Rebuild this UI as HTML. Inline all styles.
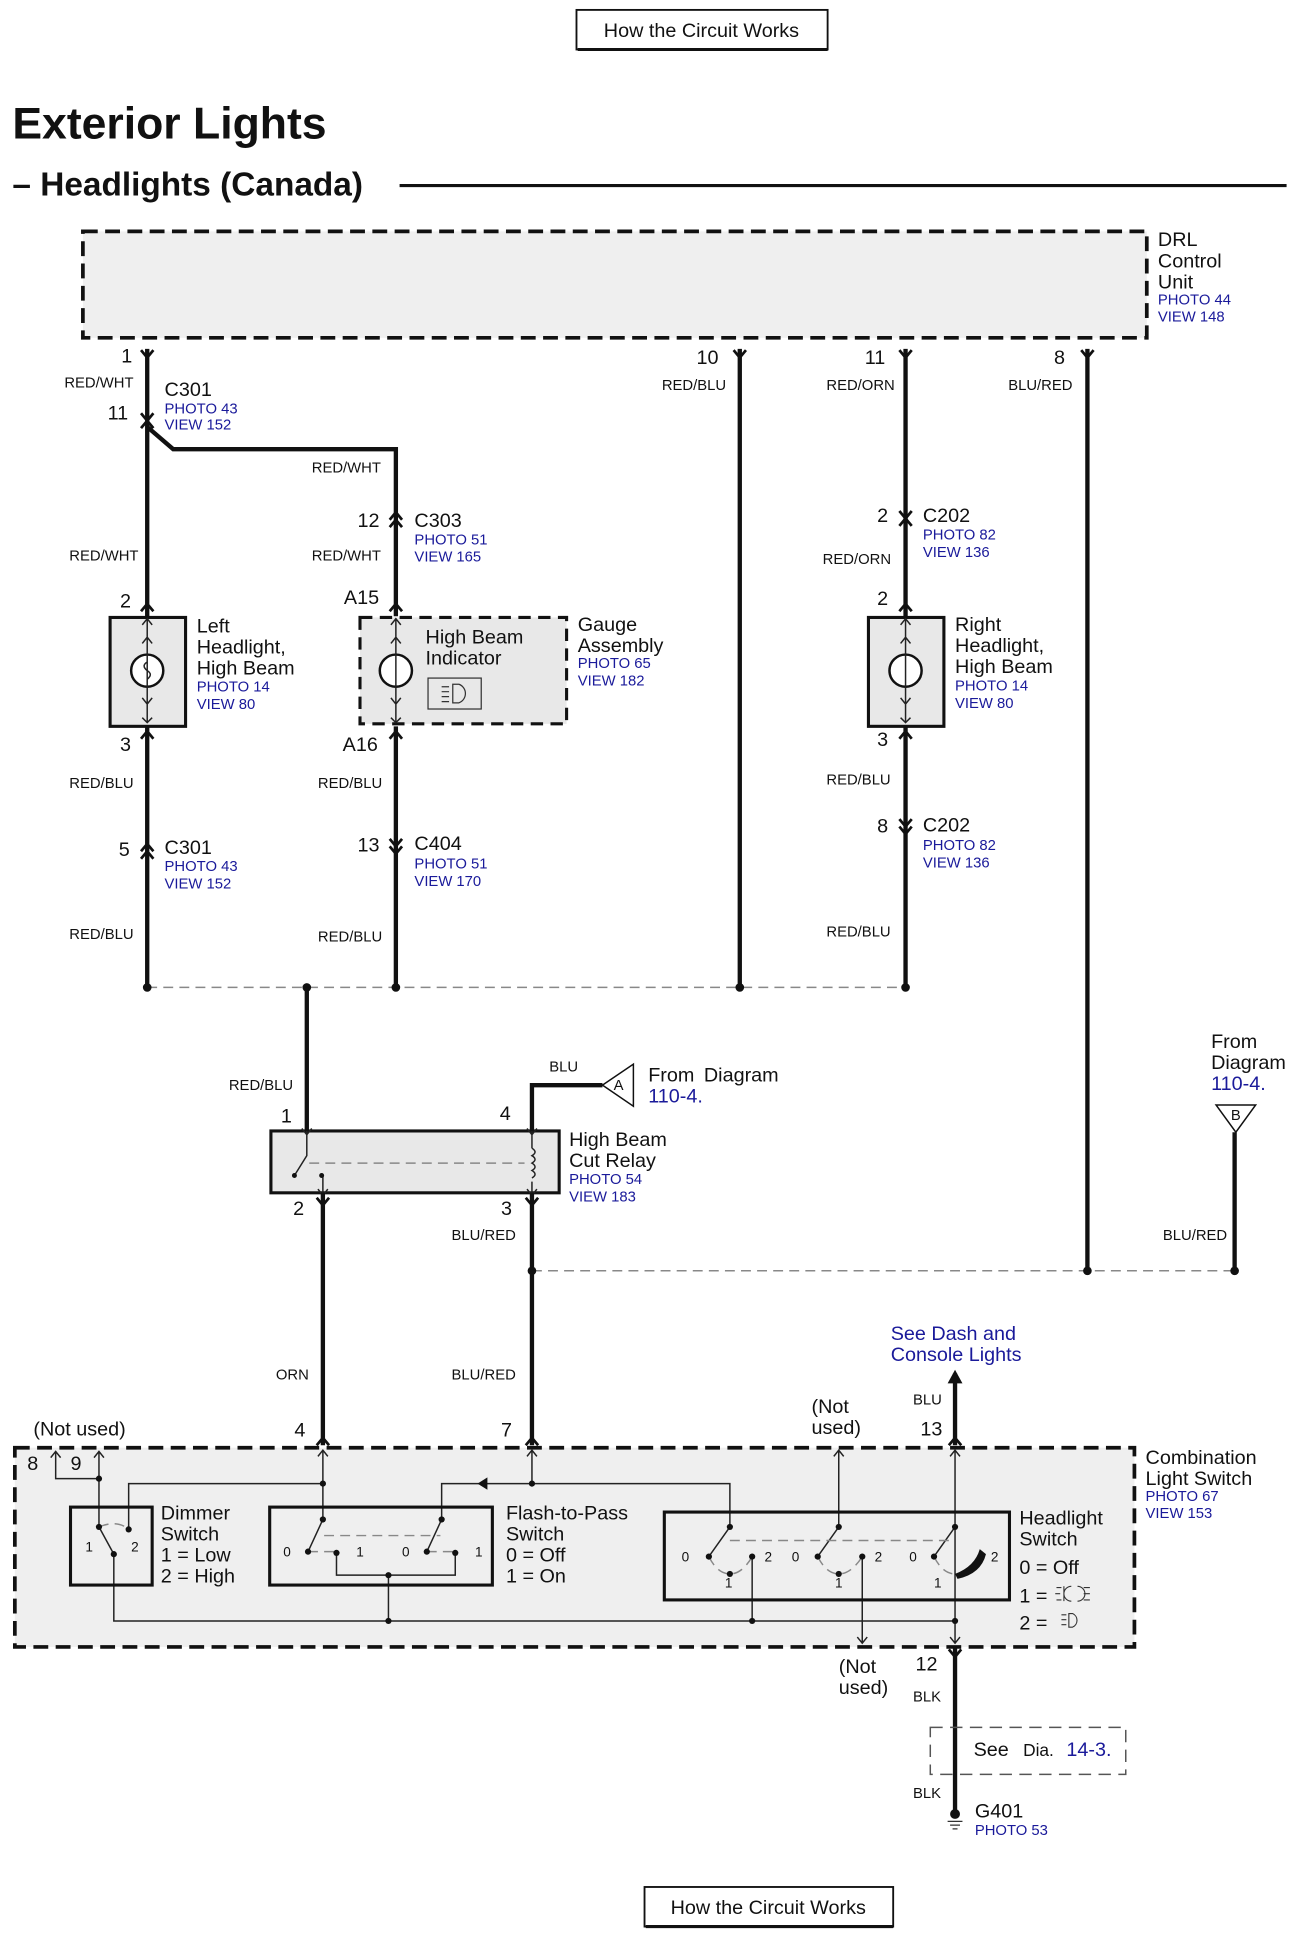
<!DOCTYPE html>
<html><head><meta charset="utf-8"><style>
html,body{margin:0;padding:0;background:#fff}
svg{display:block}
text{font-family:"Liberation Sans",sans-serif;fill:#111}
.s{font-size:12px}
.m{font-size:16px}
.b{fill:#1a1a9a;font-size:12px}
.bm{fill:#1a1a9a;font-size:16px}
.w{stroke:#111;stroke-width:3.5;fill:none}
.t{stroke:#222;stroke-width:1.2;fill:none}
.d{stroke:#111;stroke-width:3;stroke-dasharray:12 6}
.g{stroke:#888;stroke-width:1.2;fill:none;stroke-dasharray:8 5}
.c{stroke:#111;stroke-width:2.2;fill:none}
</style></head><body>
<svg width="1294" height="1934" viewBox="0 0 1046 1563" preserveAspectRatio="none" xmlns="http://www.w3.org/2000/svg">
<!-- top button -->
<rect x="466" y="8" width="203" height="32" fill="#fff" stroke="#111" stroke-width="1.5"/>
<line x1="467" y1="40" x2="669" y2="40" stroke="#111" stroke-width="2.5"/>
<text x="567" y="30" class="m" text-anchor="middle">How the Circuit Works</text>
<text x="10" y="112" style="font-size:36px;font-weight:bold">Exterior Lights</text>
<text x="10" y="158" style="font-size:27px;font-weight:bold">– Headlights (Canada)</text>
<line x1="323" y1="150" x2="1040" y2="150" stroke="#111" stroke-width="2.5"/>

<!-- DRL box -->
<rect x="67" y="187" width="860" height="86" style="fill:#efefef" class="d"/>
<text x="936" y="199" class="m">DRL</text><text x="936" y="216" class="m">Control</text><text x="936" y="233" class="m">Unit</text>
<text x="936" y="246" class="b">PHOTO 44</text><text x="936" y="260" class="b">VIEW 148</text>

<!-- wires -->
<path class="w" d="M119 282 V798"/>
<path class="w" d="M119 345 L140 363 H320 V498"/>
<path class="w" d="M320 587 V798"/>
<path class="w" d="M598 282 V798"/>
<path class="w" d="M732 282 V498"/>
<path class="w" d="M732 587 V798"/>
<path class="w" d="M879 282 V1027"/>
<g class="c">
<path d="M114 283 L119 289 L124 283"/><path d="M593 283 L598 289 L603 283"/><path d="M727 283 L732 289 L737 283"/><path d="M874 283 L879 289 L884 283"/>
<path d="M114 334 L119 340 L124 334"/><path d="M114 346 L119 340 L124 346"/>
<path d="M315 420 L320 414 L325 420"/><path d="M315 426 L320 420 L325 426"/>
<path d="M727 413 L732 419 L737 413"/><path d="M727 425 L732 419 L737 425"/>
<path d="M114 494 L119 488 L124 494"/><path d="M315 494 L320 488 L325 494"/><path d="M727 494 L732 488 L737 494"/>
<path d="M114 597 L119 591 L124 597"/><path d="M315 597 L320 591 L325 597"/><path d="M727 597 L732 591 L737 597"/>
<path d="M114 688 L119 682 L124 688"/><path d="M114 694 L119 688 L124 694"/>
<path d="M315 678 L320 684 L325 678"/><path d="M315 684 L320 690 L325 684"/>
<path d="M727 662 L732 668 L737 662"/><path d="M727 668 L732 674 L737 668"/>
</g>
<text x="98" y="293" class="m">1</text><text x="52" y="313" class="s">RED/WHT</text>
<text x="133" y="320" class="m">C301</text><text x="133" y="334" class="b">PHOTO 43</text><text x="133" y="347" class="b">VIEW 152</text>
<text x="87" y="339" class="m">11</text>
<text x="252" y="382" class="s">RED/WHT</text>
<text x="289" y="426" class="m">12</text><text x="335" y="426" class="m">C303</text><text x="335" y="440" class="b">PHOTO 51</text><text x="335" y="454" class="b">VIEW 165</text>
<text x="252" y="453" class="s">RED/WHT</text><text x="56" y="453" class="s">RED/WHT</text>
<text x="563" y="294" class="m">10</text><text x="535" y="315" class="s">RED/BLU</text>
<text x="699" y="294" class="m">11</text><text x="668" y="315" class="s">RED/ORN</text>
<text x="852" y="294" class="m">8</text><text x="815" y="315" class="s">BLU/RED</text>
<text x="709" y="422" class="m">2</text><text x="746" y="422" class="m">C202</text><text x="746" y="436" class="b">PHOTO 82</text><text x="746" y="450" class="b">VIEW 136</text>
<text x="665" y="456" class="s">RED/ORN</text>

<!-- left headlight -->
<rect x="89" y="499" width="61" height="88" fill="#e8e8e8" stroke="#111" stroke-width="2.5"/>
<circle cx="119" cy="542" r="13" fill="#fff" stroke="#111" stroke-width="2"/>
<path class="t" d="M119 500 V584 M115 505 L119 500 L123 505 M115 580 L119 584 L123 580 M115 520 L119 515 L123 520 M115 564 L119 569 L123 564"/>
<path class="t" d="M119 535 q-5 3 0 7 q5 3 0 7" stroke-width="1"/>
<text x="97" y="491" class="m">2</text><text x="97" y="607" class="m">3</text>
<text x="159" y="511" class="m">Left</text><text x="159" y="528" class="m">Headlight,</text><text x="159" y="545" class="m">High Beam</text>
<text x="159" y="559" class="b">PHOTO 14</text><text x="159" y="573" class="b">VIEW 80</text>
<!-- gauge -->
<rect x="291" y="499" width="167" height="86" fill="#e8e8e8" stroke="#111" stroke-width="2.5" stroke-dasharray="10 6"/>
<circle cx="320" cy="542" r="13" fill="#fff" stroke="#111" stroke-width="2"/>
<path class="t" d="M320 500 V584 M316 505 L320 500 L324 505 M316 580 L320 584 L324 580 M316 520 L320 515 L324 520 M316 564 L320 569 L324 564"/>
<rect x="346" y="548" width="43" height="25" fill="none" stroke="#333" stroke-width="1"/>
<path d="M366 553 h5 a8 8 0 0 1 0 15 h-5 z M357 555 h6 M357 559 h6 M357 563 h6 M357 567 h6" fill="none" stroke="#333" stroke-width="1"/>
<text x="278" y="488" class="m">A15</text><text x="277" y="607" class="m">A16</text>
<text x="344" y="520" class="m">High Beam</text><text x="344" y="537" class="m">Indicator</text>
<text x="467" y="510" class="m">Gauge</text><text x="467" y="527" class="m">Assembly</text><text x="467" y="540" class="b">PHOTO 65</text><text x="467" y="554" class="b">VIEW 182</text>
<!-- right headlight -->
<rect x="702" y="499" width="61" height="88" fill="#e8e8e8" stroke="#111" stroke-width="2.5"/>
<circle cx="732" cy="542" r="13" fill="#fff" stroke="#111" stroke-width="2"/>
<path class="t" d="M732 500 V584 M728 505 L732 500 L736 505 M728 580 L732 584 L736 580 M728 520 L732 515 L736 520 M728 564 L732 569 L736 564"/>
<text x="709" y="489" class="m">2</text><text x="709" y="603" class="m">3</text>
<text x="772" y="510" class="m">Right</text><text x="772" y="527" class="m">Headlight,</text><text x="772" y="544" class="m">High Beam</text>
<text x="772" y="558" class="b">PHOTO 14</text><text x="772" y="572" class="b">VIEW 80</text>

<text x="56" y="637" class="s">RED/BLU</text><text x="257" y="637" class="s">RED/BLU</text><text x="668" y="634" class="s">RED/BLU</text>
<text x="96" y="692" class="m">5</text><text x="133" y="690" class="m">C301</text><text x="133" y="704" class="b">PHOTO 43</text><text x="133" y="718" class="b">VIEW 152</text>
<text x="289" y="688" class="m">13</text><text x="335" y="687" class="m">C404</text><text x="335" y="702" class="b">PHOTO 51</text><text x="335" y="716" class="b">VIEW 170</text>
<text x="709" y="673" class="m">8</text><text x="746" y="672" class="m">C202</text><text x="746" y="687" class="b">PHOTO 82</text><text x="746" y="701" class="b">VIEW 136</text>
<text x="56" y="759" class="s">RED/BLU</text><text x="257" y="761" class="s">RED/BLU</text><text x="668" y="757" class="s">RED/BLU</text>

<line x1="119" y1="798" x2="732" y2="798" class="g"/>
<g fill="#111"><circle cx="119" cy="798" r="3.5"/><circle cx="248" cy="798" r="3.5"/><circle cx="320" cy="798" r="3.5"/><circle cx="598" cy="798" r="3.5"/><circle cx="732" cy="798" r="3.5"/></g>
<path class="w" d="M248 798 V914"/>
<text x="185" y="881" class="s">RED/BLU</text>
<text x="227" y="907" class="m">1</text><text x="404" y="905" class="m">4</text>
<path class="w" d="M430 914 V877 H487"/>
<text x="444" y="866" class="s">BLU</text>
<polygon points="487,877 512,860 512,894" fill="#fff" stroke="#111" stroke-width="1.2"/>
<text x="500" y="881" class="s" text-anchor="middle">A</text>
<text x="524" y="874" class="m">From</text><text x="569" y="874" class="m">Diagram</text><text x="524" y="891" class="bm">110-4.</text>
<rect x="219" y="914" width="233" height="50" fill="#e8e8e8" stroke="#111" stroke-width="2.5"/>
<path class="t" d="M248 914 V934 L238 950 M261 964 V950 M244 912 L248 917 L252 912 M257 961 L261 966 L265 961"/>
<circle cx="238" cy="950" r="2" fill="#111"/><circle cx="260" cy="950" r="2" fill="#111"/>
<path class="t" d="M430 914 V928 M430 955 V964 M426 912 L430 917 L434 912 M426 961 L430 966 L434 961"/>
<path d="M430 928 q5 3 0 6 q5 3 0 6 q5 3 0 6 q5 3 0 6" fill="none" stroke="#222" stroke-width="1.2"/>
<line x1="250" y1="940" x2="424" y2="940" class="g"/>
<text x="460" y="926" class="m">High Beam</text><text x="460" y="943" class="m">Cut Relay</text><text x="460" y="957" class="b">PHOTO 54</text><text x="460" y="971" class="b">VIEW 183</text>
<text x="237" y="982" class="m">2</text><text x="405" y="982" class="m">3</text>
<path class="c" d="M256 968 L261 974 L266 968 M425 968 L430 974 L435 968"/>
<path class="w" d="M261 964 V1168 M430 964 V1168"/>
<text x="365" y="1002" class="s">BLU/RED</text><text x="223" y="1115" class="s">ORN</text><text x="365" y="1115" class="s">BLU/RED</text>
<line x1="430" y1="1027" x2="998" y2="1027" class="g"/>
<g fill="#111"><circle cx="430" cy="1027" r="3.5"/><circle cx="879" cy="1027" r="3.5"/><circle cx="998" cy="1027" r="3.5"/></g>
<text x="979" y="847" class="m">From</text><text x="979" y="864" class="m">Diagram</text><text x="979" y="881" class="bm">110-4.</text>
<polygon points="983,893 1015,893 999,915" fill="#fff" stroke="#111" stroke-width="1.2"/>
<text x="999" y="905" class="s" text-anchor="middle">B</text>
<path class="w" d="M998 915 V1027"/>
<text x="940" y="1002" class="s">BLU/RED</text>
<text x="720" y="1083" class="bm">See Dash and</text><text x="720" y="1100" class="bm">Console Lights</text>
<polygon points="766,1118 778,1118 772,1107" fill="#111"/>
<path class="w" d="M772 1110 V1168"/>
<text x="738" y="1135" class="s">BLU</text><text x="744" y="1160" class="m">13</text>
<text x="27" y="1160" class="m">(Not used)</text><text x="238" y="1161" class="m">4</text><text x="405" y="1161" class="m">7</text>
<text x="656" y="1142" class="m">(Not</text><text x="656" y="1159" class="m">used)</text>
<path class="c" d="M256 1168 L261 1162 L266 1168 M425 1168 L430 1162 L435 1168 M767 1168 L772 1162 L777 1168"/>

<!-- combination switch -->
<rect x="12" y="1170" width="905" height="161" style="fill:#efefef" class="d"/>
<text x="926" y="1183" class="m">Combination</text><text x="926" y="1200" class="m">Light Switch</text><text x="926" y="1213" class="b">PHOTO 67</text><text x="926" y="1227" class="b">VIEW 153</text>
<text x="22" y="1188" class="m">8</text><text x="57" y="1188" class="m">9</text>
<g class="t">
<path d="M45 1173 V1195 H80 M41 1178 L45 1173 L49 1178"/>
<path d="M80 1173 V1234 M76 1178 L80 1173 L84 1178"/>
<path d="M104 1236 V1199 H261"/>
<path d="M261 1172 V1228 M257 1177 L261 1172 L265 1177"/>
<path d="M430 1172 V1199 M426 1177 L430 1172 L434 1177"/>
<path d="M357 1228 V1199 H590 V1234"/>
<path d="M678 1172 V1234 M674 1177 L678 1172 L682 1177"/>
<path d="M772 1172 V1328 M768 1177 L772 1172 L776 1177 M768 1323 L772 1328 L776 1323"/>
<path d="M92 1256 V1310 H772"/>
<path d="M80 1234 L92 1256"/>
<path d="M272 1255 V1273 H368 V1255 M314 1273 V1310"/>
<path d="M261 1228 L249 1254 M357 1228 L345 1254"/>
<path d="M590 1234 L573 1258 M678 1234 L661 1258 M772 1234 L755 1258"/>
<path d="M608 1258 V1310 M697 1258 V1328 M693 1323 L697 1328 L701 1323"/>
</g>
<g class="g" stroke-dasharray="3 3" stroke="#333"><path d="M80 1234 Q95 1228 104 1236"/><path d="M249 1254 H272 M345 1254 H368"/>
<path d="M573 1258 Q580 1272 590 1272 Q600 1272 608 1258 M661 1258 Q668 1272 678 1272 Q688 1272 697 1258 M755 1258 Q762 1272 772 1272"/></g>
<line x1="262" y1="1241" x2="356" y2="1241" class="g" stroke-dasharray="6 4"/>
<line x1="590" y1="1245" x2="772" y2="1245" class="g" stroke-dasharray="6 4"/>
<polygon points="386,1199 394,1194 394,1204" fill="#111"/>
<path d="M772 1272 Q788 1266 792 1252 L797 1256 Q793 1272 774 1276 z" fill="#111"/>
<g fill="#111">
<circle cx="80" cy="1195" r="2.5"/><circle cx="261" cy="1199" r="2.5"/><circle cx="430" cy="1199" r="2.5"/>
<circle cx="80" cy="1234" r="2.5"/><circle cx="92" cy="1256" r="2.5"/><circle cx="104" cy="1236" r="2.5"/>
<circle cx="261" cy="1228" r="2.5"/><circle cx="357" cy="1228" r="2.5"/><circle cx="249" cy="1254" r="2.5"/><circle cx="272" cy="1255" r="2.5"/><circle cx="345" cy="1254" r="2.5"/><circle cx="368" cy="1255" r="2.5"/><circle cx="314" cy="1273" r="2.5"/>
<circle cx="590" cy="1234" r="2.5"/><circle cx="678" cy="1234" r="2.5"/><circle cx="772" cy="1234" r="2.5"/>
<circle cx="573" cy="1258" r="2.5"/><circle cx="608" cy="1258" r="2.5"/><circle cx="590" cy="1272" r="2.5"/>
<circle cx="661" cy="1258" r="2.5"/><circle cx="697" cy="1258" r="2.5"/><circle cx="678" cy="1272" r="2.5"/><circle cx="755" cy="1258" r="2.5"/>
<circle cx="314" cy="1310" r="2.5"/><circle cx="608" cy="1310" r="2.5"/><circle cx="772" cy="1310" r="2.5"/>
</g>
<rect x="57" y="1218" width="66" height="63" fill="none" stroke="#111" stroke-width="2.5"/>
<rect x="218" y="1218" width="180" height="63" fill="none" stroke="#111" stroke-width="2.5"/>
<rect x="537" y="1222" width="279" height="71" fill="none" stroke="#111" stroke-width="2.5"/>
<g style="font-size:11px">
<text x="69" y="1254" style="font-size:11px">1</text><text x="106" y="1254" style="font-size:11px">2</text>
<text x="229" y="1258" style="font-size:11px">0</text><text x="288" y="1258" style="font-size:11px">1</text><text x="325" y="1258" style="font-size:11px">0</text><text x="384" y="1258" style="font-size:11px">1</text>
<text x="551" y="1262" style="font-size:11px">0</text><text x="618" y="1262" style="font-size:11px">2</text><text x="586" y="1283" style="font-size:11px">1</text>
<text x="640" y="1262" style="font-size:11px">0</text><text x="707" y="1262" style="font-size:11px">2</text><text x="675" y="1283" style="font-size:11px">1</text>
<text x="735" y="1262" style="font-size:11px">0</text><text x="801" y="1262" style="font-size:11px">2</text><text x="755" y="1283" style="font-size:11px">1</text>
</g>
<text x="130" y="1228" class="m">Dimmer</text><text x="130" y="1245" class="m">Switch</text><text x="130" y="1262" class="m">1 =  Low</text><text x="130" y="1279" class="m">2 =  High</text>
<text x="409" y="1228" class="m">Flash-to-Pass</text><text x="409" y="1245" class="m">Switch</text><text x="409" y="1262" class="m">0 =  Off</text><text x="409" y="1279" class="m">1 =  On</text>
<text x="824" y="1232" class="m">Headlight</text><text x="824" y="1249" class="m">Switch</text><text x="824" y="1272" class="m">0 =  Off</text><text x="824" y="1295" class="m">1 =</text><text x="824" y="1317" class="m">2 =</text>
<path d="M860 1282 v12 M854 1283 h4 M853 1288 h4 M854 1293 h4 M866 1282 a6 6 0 0 0 0 12 M871 1282 a6 6 0 0 1 0 12 M876 1283 h5 M876 1288 h5 M876 1293 h5" fill="none" stroke="#333" stroke-width="0.9"/>
<path d="M864 1304 h3 a6 6 0 0 1 0 11 h-3 z M858 1305 h4 M858 1309 h4 M858 1313 h4" fill="none" stroke="#333" stroke-width="0.9"/>

<text x="678" y="1352" class="m">(Not</text><text x="678" y="1369" class="m">used)</text>
<text x="740" y="1350" class="m">12</text><text x="738" y="1375" class="s">BLK</text>
<path class="c" d="M767 1333 L772 1339 L777 1333"/>
<path class="w" d="M772 1331 V1466"/>
<rect x="752" y="1396" width="158" height="38" fill="none" stroke="#555" stroke-width="1.2" stroke-dasharray="10 6"/>
<text x="787" y="1419" class="m">See</text><text x="827" y="1419" class="m" style="font-size:14px">Dia.</text><text x="862" y="1419" class="bm">14-3.</text>
<text x="738" y="1453" class="s">BLK</text>
<circle cx="772" cy="1466" r="4" fill="#111"/>
<path d="M766 1472 h12 M768 1475 h8 M770 1478 h4" stroke="#333" stroke-width="1"/>
<text x="788" y="1469" class="m">G401</text><text x="788" y="1483" class="b">PHOTO 53</text>

<rect x="521" y="1525" width="201" height="32" fill="#fff" stroke="#111" stroke-width="1.5"/>
<line x1="522" y1="1557" x2="722" y2="1557" stroke="#111" stroke-width="2.5"/>
<text x="621" y="1547" class="m" text-anchor="middle">How the Circuit Works</text>
</svg>
</body></html>
